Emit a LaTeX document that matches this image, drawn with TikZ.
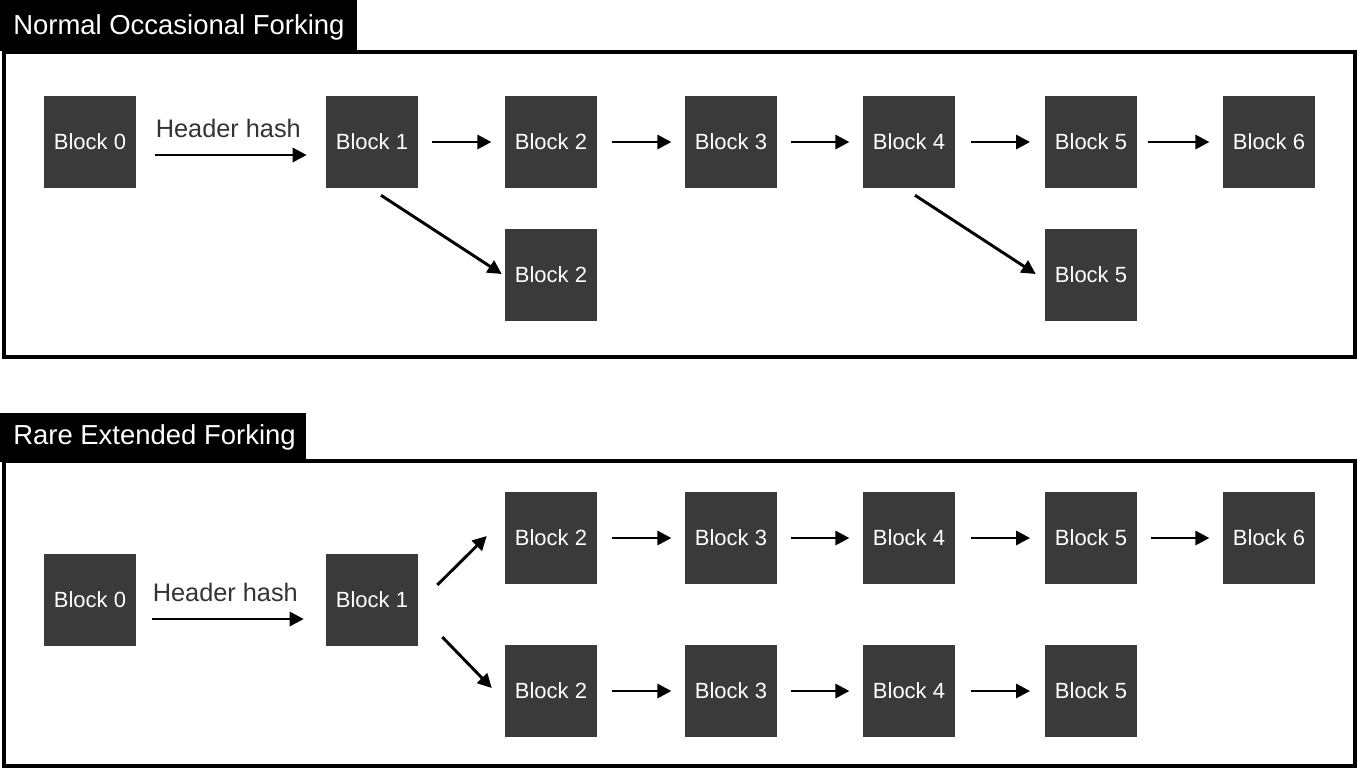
\documentclass[tikz,border=0pt]{standalone}
\usepackage{fontspec}
\setmainfont{Liberation Sans}
\usetikzlibrary{arrows.meta,calc}
\definecolor{blockgray}{HTML}{3A3A3A}
\begin{document}
\begin{tikzpicture}[x=0.75pt,y=-0.75pt,
  blk/.style={fill=blockgray, draw=none, minimum width=69pt, minimum height=69pt, inner sep=0pt, text=white, font=\fontsize{16.5}{18}\selectfont},
  arr/.style={line width=2.2pt, -{Triangle[length=10.5pt,width=10.5pt]}},
  frame/.style={draw=black, line width=2.3pt},
  titlebg/.style={fill=black},
  titletext/.style={text=white, anchor=west, inner sep=0pt, font=\fontsize{20.6}{24}\selectfont},
  lbl/.style={text=black!80, inner sep=0pt, font=\fontsize{19}{22}\selectfont}]
\useasboundingbox (0,0) rectangle (1358,769);
% ---------- Frame 1 ----------
\draw[frame] (4,52) rectangle (1355,357);
\fill[titlebg] (0,0) rectangle (357,51);
\node[titletext] (t1) at (13,27) {Normal Occasional Forking};
\node[blk] (a0) at (90,142) {Block 0};
\node[blk] (a1) at (372,142) {Block 1};
\node[blk] (a2) at (551,142) {Block 2};
\node[blk] (a3) at (731,142) {Block 3};
\node[blk] (a4) at (909,142) {Block 4};
\node[blk] (a5) at (1091,142) {Block 5};
\node[blk] (a6) at (1269,142) {Block 6};
\node[blk] (c2) at (551,275) {Block 2};
\node[blk] (c5) at (1091,275) {Block 5};
\draw[arr] ($(a0.east)+(19,13)$) -- node[lbl, above=12pt, xshift=-2pt] (h1) {Header hash} ($(a1.west)+(-19,13)$);
\draw[arr, shorten <=10.5pt, shorten >=10pt] (a1.east) -- (a2.west);
\draw[arr, shorten <=11pt, shorten >=10pt] (a2.east) -- (a3.west);
\draw[arr, shorten <=10pt, shorten >=10pt] (a3.east) -- (a4.west);
\draw[arr, shorten <=12pt, shorten >=11pt] (a4.east) -- (a5.west);
\draw[arr, shorten <=8pt, shorten >=10pt] (a5.east) -- (a6.west);
\draw[arr] ($(a1.south)+(9,7)$) -- ($(c2.west)+(-3,-1)$);
\draw[arr] ($(a4.south)+(6,7)$) -- ($(c5.west)+(-9,-1)$);
% ---------- Frame 2 ----------
\draw[frame] (4,461) rectangle (1355,766);
\fill[titlebg] (0,413) rectangle (306,462);
\node[titletext] (t2) at (13,437) {Rare Extended Forking};
\node[blk] (b0) at (90,600) {Block 0};
\node[blk] (b1) at (372,600) {Block 1};
\node[blk] (u2) at (551,538) {Block 2};
\node[blk] (u3) at (731,538) {Block 3};
\node[blk] (u4) at (909,538) {Block 4};
\node[blk] (u5) at (1091,538) {Block 5};
\node[blk] (u6) at (1269,538) {Block 6};
\node[blk] (l2) at (551,691) {Block 2};
\node[blk] (l3) at (731,691) {Block 3};
\node[blk] (l4) at (909,691) {Block 4};
\node[blk] (l5) at (1091,691) {Block 5};
\draw[arr] ($(b0.east)+(16,19)$) -- node[lbl, above=12pt, xshift=-2pt] (h2) {Header hash} ($(b1.west)+(-22,19)$);
\draw[arr] ($(b1.east)+(19,-15)$) -- ($(u2.west)+(-18,-2)$);
\draw[arr] ($(b1.east)+(24,37)$) -- ($(l2.west)+(-13,-3)$);
\draw[arr, shorten <=11pt, shorten >=10pt] (u2.east) -- (u3.west);
\draw[arr, shorten <=10pt, shorten >=10pt] (u3.east) -- (u4.west);
\draw[arr, shorten <=12pt, shorten >=11pt] (u4.east) -- (u5.west);
\draw[arr, shorten <=10pt, shorten >=10pt] (u5.east) -- (u6.west);
\draw[arr, shorten <=11pt, shorten >=10pt] (l2.east) -- (l3.west);
\draw[arr, shorten <=10pt, shorten >=10pt] (l3.east) -- (l4.west);
\draw[arr, shorten <=12pt, shorten >=11pt] (l4.east) -- (l5.west);
\end{tikzpicture}
\end{document}
